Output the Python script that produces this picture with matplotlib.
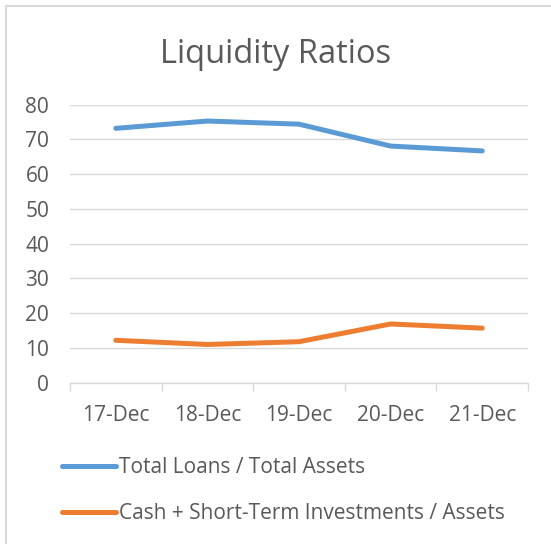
import matplotlib
matplotlib.use("Agg")
import matplotlib.pyplot as plt
from matplotlib.lines import Line2D

categories = ["17-Dec", "18-Dec", "19-Dec", "20-Dec", "21-Dec"]
loans_assets = [73.2, 75.3, 74.4, 68.1, 66.7]
cash_assets = [12.2, 11.0, 11.8, 16.9, 15.7]
series_names = ["Total Loans / Total Assets", "Cash + Short-Term Investments / Assets"]
yticks = [0, 10, 20, 30, 40, 50, 60, 70, 80]

plt.rcParams['font.family'] = ['Open Sans', 'DejaVu Sans']
txt = "#595959"
grid = "#d9d9d9"
W, H = 551, 544

fig = plt.figure(figsize=(W / 100, H / 100), dpi=100)
# chart-area border (top and left edges visible)
fig.add_artist(Line2D([6 / W, 6 / W], [0, 1 - 5.5 / H], transform=fig.transFigure,
                      color=grid, linewidth=1.5))
fig.add_artist(Line2D([6 / W, 1], [1 - 5.5 / H, 1 - 5.5 / H], transform=fig.transFigure,
                      color=grid, linewidth=1.5))

ax = fig.add_axes([70 / W, 1 - 382.7 / H, (528 - 70) / W, (382.7 - 104.7) / H])
x = list(range(len(categories)))
ax.plot(x, loans_assets, color="#5b9bd5", linewidth=3.6, solid_capstyle="round", label=series_names[0])
ax.plot(x, cash_assets, color="#ed7d31", linewidth=3.6, solid_capstyle="round", label=series_names[1])

ax.set_xlim(-0.5, len(categories) - 0.5)
ax.set_ylim(0, 80)
ax.set_yticks(yticks)
ax.set_yticklabels([str(v) for v in yticks], color=txt, fontsize=15)
ax.yaxis.grid(True, color=grid, linewidth=1)
ax.set_axisbelow(True)
ax.tick_params(axis='y', length=0, pad=15)
for s in ["top", "right", "left"]:
    ax.spines[s].set_visible(False)
ax.spines["bottom"].set_color(grid)
ax.spines["bottom"].set_linewidth(1)

ax.set_xticks([i - 0.5 for i in range(len(categories) + 1)], minor=False)
ax.set_xticklabels([""] * (len(categories) + 1))
ax.tick_params(axis='x', which='major', length=6, color=grid, width=1)
ax.set_xticks(x, minor=True)
ax.set_xticklabels(categories, minor=True, color=txt, fontsize=15)
ax.tick_params(axis='x', which='minor', length=0, pad=16)

fig.text(0.5, 1 - 63 / H, "Liquidity Ratios", ha="center", va="baseline", fontsize=23.5, color=txt)

fig.legend(loc="upper left", bbox_to_anchor=(62 / W, 1 - 457 / H), frameon=False, fontsize=15,
           labelcolor=txt, handlelength=2.6, handletextpad=0.15, labelspacing=1.2,
           borderaxespad=0, borderpad=0)

fig.savefig("out.png", dpi=100)
